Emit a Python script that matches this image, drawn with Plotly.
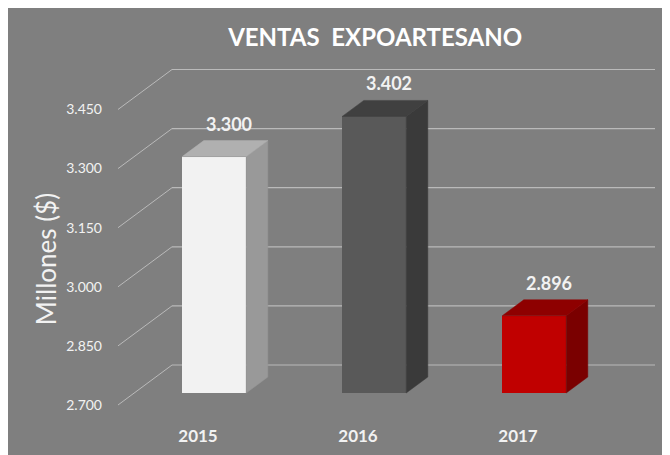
#!/usr/bin/env python3

'''
    Ventas Expoartesano 2015-2017 (millones de $), Excel-style 3D columns
'''

import plotly.graph_objects as go

# Data
years = ['2015', '2016', '2017']
sales = [3.300, 3.402, 2.896]
sales_labels = ['3.300', '3.402', '2.896']
y_ticks = [2.700, 2.850, 3.000, 3.150, 3.300, 3.450]
y_tick_labels = ['2.700', '2.850', '3.000', '3.150', '3.300', '3.450']

front_colors = ['#f2f2f2', '#595959', '#c00000']
side_colors = ['#999999', '#3a3a3a', '#7a0000']
top_colors = ['#b0b0b0', '#404040', '#8e0000']

# Fake perspective: how far "back" one unit of depth goes, in axis units
depth_x = 0.3375
depth_y = 0.1015
bar_front = 0.3   # bar front face at 30% of the depth
bar_depth = 0.4   # bar is 40% deep
bar_width = 0.4
y_floor = y_ticks[0]

fig = go.Figure()

for i, year in enumerate(years):
    xl = i + bar_front * depth_x - bar_width / 2
    xr = xl + bar_width
    y0 = y_floor + bar_front * depth_y
    y1 = sales[i] + bar_front * depth_y
    ddx = bar_depth * depth_x
    ddy = bar_depth * depth_y

    # front face
    fig.add_trace(go.Bar(
        x=[i + bar_front * depth_x], y=[y1 - y0], base=[y0],
        width=bar_width,
        marker=dict(color=front_colors[i], line=dict(width=0)),
        hoverinfo='skip', showlegend=False
    ))
    # side face
    fig.add_trace(go.Scatter(
        x=[xr, xr, xr + ddx, xr + ddx, xr],
        y=[y0, y1, y1 + ddy, y0 + ddy, y0],
        fill='toself', fillcolor=side_colors[i], mode='lines',
        line=dict(color=side_colors[i], width=0.5),
        hoverinfo='skip', showlegend=False
    ))
    # top face
    fig.add_trace(go.Scatter(
        x=[xl, xr, xr + ddx, xl + ddx, xl],
        y=[y1, y1, y1 + ddy, y1 + ddy, y1],
        fill='toself', fillcolor=top_colors[i], mode='lines',
        line=dict(color=top_colors[i], width=0.5),
        hoverinfo='skip', showlegend=False
    ))

x_min = -0.5
x_max = 2.85625
grid_color = '#bababa'

shapes = []
for v in y_ticks:
    # diagonal from the front tick to the back wall
    shapes.append(dict(type='line', xref='x', yref='y', layer='below',
                       x0=x_min, y0=v, x1=x_min + depth_x, y1=v + depth_y,
                       line=dict(color=grid_color, width=1)))
    # back wall gridline
    shapes.append(dict(type='line', xref='x', yref='y', layer='below',
                       x0=x_min + depth_x, y0=v + depth_y, x1=x_max, y1=v + depth_y,
                       line=dict(color=grid_color, width=1.2)))

annotations = []
for i, txt in enumerate(sales_labels):
    annotations.append(dict(
        x=i + (bar_front + bar_depth / 2) * depth_x,
        y=sales[i] + (bar_front + bar_depth) * depth_y,
        xref='x', yref='y', text='<b>%s</b>' % txt, showarrow=False,
        yanchor='bottom', yshift=4, xshift=4,
        font=dict(size=18, color='#f2f2f2', family='Lato')
    ))

# y axis title, placed by hand (Excel centres it a bit lower than the plot area)
annotations.append(dict(
    x=-0.134, y=0.431, xref='paper', yref='paper',
    text='Millones ($)', textangle=-90, showarrow=False,
    xanchor='center', yanchor='middle',
    font=dict(size=26, color='#f2f2f2', family='Lato')
))

layout = go.Layout(
    width=670,
    height=455,
    margin=dict(l=110, r=23, t=52, b=53),
    paper_bgcolor='#7f7f7f',
    plot_bgcolor='rgba(0,0,0,0)',
    font=dict(family='Lato', color='#f2f2f2'),
    title=dict(
        text='<b>VENTAS  EXPOARTESANO</b>',
        x=0.548, xanchor='center', xref='container',
        y=0.934, yanchor='middle', yref='container',
        font=dict(size=24, color='#ffffff', family='Lato')
    ),
    xaxis=dict(
        range=[x_min, x_max],
        tickvals=list(range(len(years))),
        ticktext=['<b>%s</b>' % y for y in years],
        tickfont=dict(size=17, color='#f2f2f2'),
        showgrid=False, zeroline=False, showline=False,
        ticklabelstandoff=14,
        automargin=False,
        fixedrange=True
    ),
    yaxis=dict(
        range=[2.6873, 3.5756],
        tickvals=y_ticks,
        ticktext=y_tick_labels,
        tickfont=dict(size=14, color='#f2f2f2'),
        showgrid=False, zeroline=False, showline=False,
        ticklabelstandoff=15,
        automargin=False,
        fixedrange=True
    ),
    shapes=shapes,
    annotations=annotations,
    bargap=0
)

fig.update_layout(layout)
fig.write_html('out.html')
